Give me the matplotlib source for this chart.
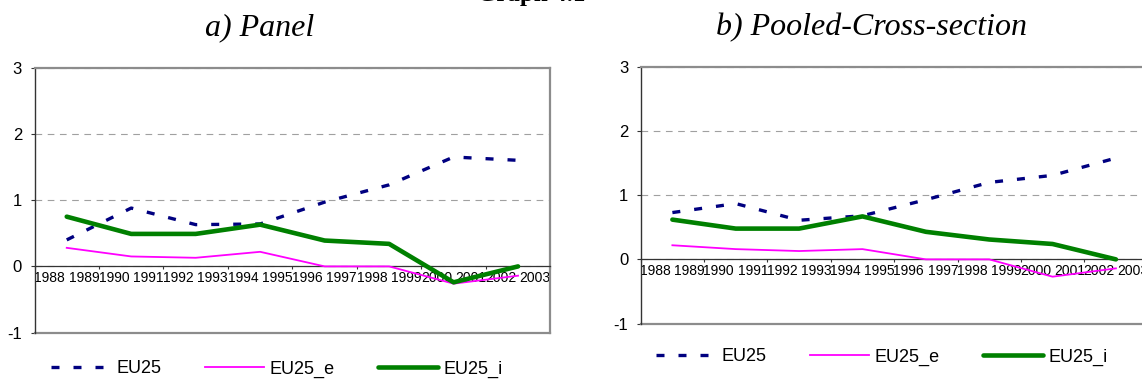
import numpy as np
import matplotlib
matplotlib.use("Agg")
import matplotlib.pyplot as plt

plt.rcParams['font.family'] = ['Liberation Sans', 'DejaVu Sans']
plt.rcParams['axes.unicode_minus'] = False

# year labels, two per period (category)
years = ["1988", "1989", "1990", "1991", "1992", "1993", "1994", "1995",
         "1996", "1997", "1998", "1999", "2000", "2001", "2002", "2003"]

# a) Panel
eu25_a = [0.40, 0.88, 0.63, 0.64, 0.97, 1.23, 1.65, 1.60]
eu25_e_a = [0.28, 0.15, 0.13, 0.22, 0.00, 0.00, -0.26, -0.14]
eu25_i_a = [0.75, 0.49, 0.49, 0.63, 0.39, 0.34, -0.24, 0.00]

# b) Pooled-Cross-section
eu25_b = [0.73, 0.87, 0.61, 0.68, 0.93, 1.20, 1.31, 1.58]
eu25_e_b = [0.22, 0.16, 0.13, 0.16, 0.00, 0.00, -0.27, -0.14]
eu25_i_b = [0.62, 0.48, 0.48, 0.67, 0.43, 0.31, 0.24, 0.00]

W, H = 1142, 381


def draw(ax, eu25, eu25_e, eu25_i, half):
    x = np.arange(len(eu25))
    ax.plot(x, eu25, color='#000080', lw=2.4, linestyle=(0, (2.4, 4.2)),
            dash_capstyle='butt', label='EU25', zorder=3)
    ax.plot(x, eu25_e, color='#ff00ff', lw=1.3, label='EU25_e', zorder=3)
    ax.plot(x, eu25_i, color='#008000', lw=3.3, label='EU25_i', zorder=3,
            solid_capstyle='round')

    ax.set_xlim(-0.5, len(eu25) - 0.5)
    ax.set_ylim(-1, 3)
    ax.set_yticks([-1, 0, 1, 2, 3])
    ax.yaxis.grid(True, linestyle=(0, (6, 5)), color='#a0a0a0', lw=0.8)

    ax.set_xticks(np.arange(len(eu25) + 1) - 0.5)
    ax.set_xticklabels([])
    pos = np.ravel([[i - half, i + half] for i in x])
    ax.set_xticks(pos, minor=True)
    ax.set_xticklabels(years, minor=True, fontsize=6)
    ax.tick_params(axis='x', which='major', length=2.5, width=0.8,
                   color='#333333', direction='out')
    ax.tick_params(axis='x', which='minor', length=0, pad=3)
    ax.tick_params(axis='y', length=3, width=0.8, color='#333333',
                   labelsize=12, pad=6)

    ax.spines['bottom'].set_position(('data', 0))
    ax.spines['bottom'].set_color('#333333')
    ax.spines['bottom'].set_linewidth(0.9)
    ax.spines['left'].set_color('#333333')
    ax.spines['left'].set_linewidth(1.0)
    for s in ['top', 'right']:
        ax.spines[s].set_color('#8c8c8c')
        ax.spines[s].set_linewidth(1.6)
    ax.axhline(-1, color='#8c8c8c', lw=1.6, clip_on=False, zorder=2.5)


fig = plt.figure(figsize=(W / 100, H / 100), dpi=100)

ax1 = fig.add_axes([34.5 / W, 1 - 332.7 / H, 515.8 / W, 265.2 / H])
draw(ax1, eu25_a, eu25_e_a, eu25_i_a, 0.265)

ax2 = fig.add_axes([640.7 / W, 1 - 323.5 / H, 506.9 / W, 256.5 / H])
draw(ax2, eu25_b, eu25_e_b, eu25_i_b, 0.27)

fig.text(477 / W, 1 - 1.5 / H, 'Graph 4.1', family='Liberation Serif',
         weight='bold', fontsize=18, ha='left', va='baseline')
fig.text(260 / W, 1 - 35 / H, 'a) Panel', family='Liberation Serif',
         style='italic', fontsize=23, ha='center', va='baseline')
fig.text(872 / W, 1 - 35 / H, 'b) Pooled-Cross-section', family='Liberation Serif',
         style='italic', fontsize=23, ha='center', va='baseline')

for ax, cx, cy in [(ax1, 277, 369), (ax2, 882, 357)]:
    h, l = ax.get_legend_handles_labels()
    fig.legend(h, l, loc='center', bbox_to_anchor=(cx / W, 1 - cy / H), ncol=3,
               frameon=False, fontsize=13, handlelength=3.3, handletextpad=0.3,
               columnspacing=2.4, borderpad=0, borderaxespad=0)

fig.savefig('out.png', dpi=100)
